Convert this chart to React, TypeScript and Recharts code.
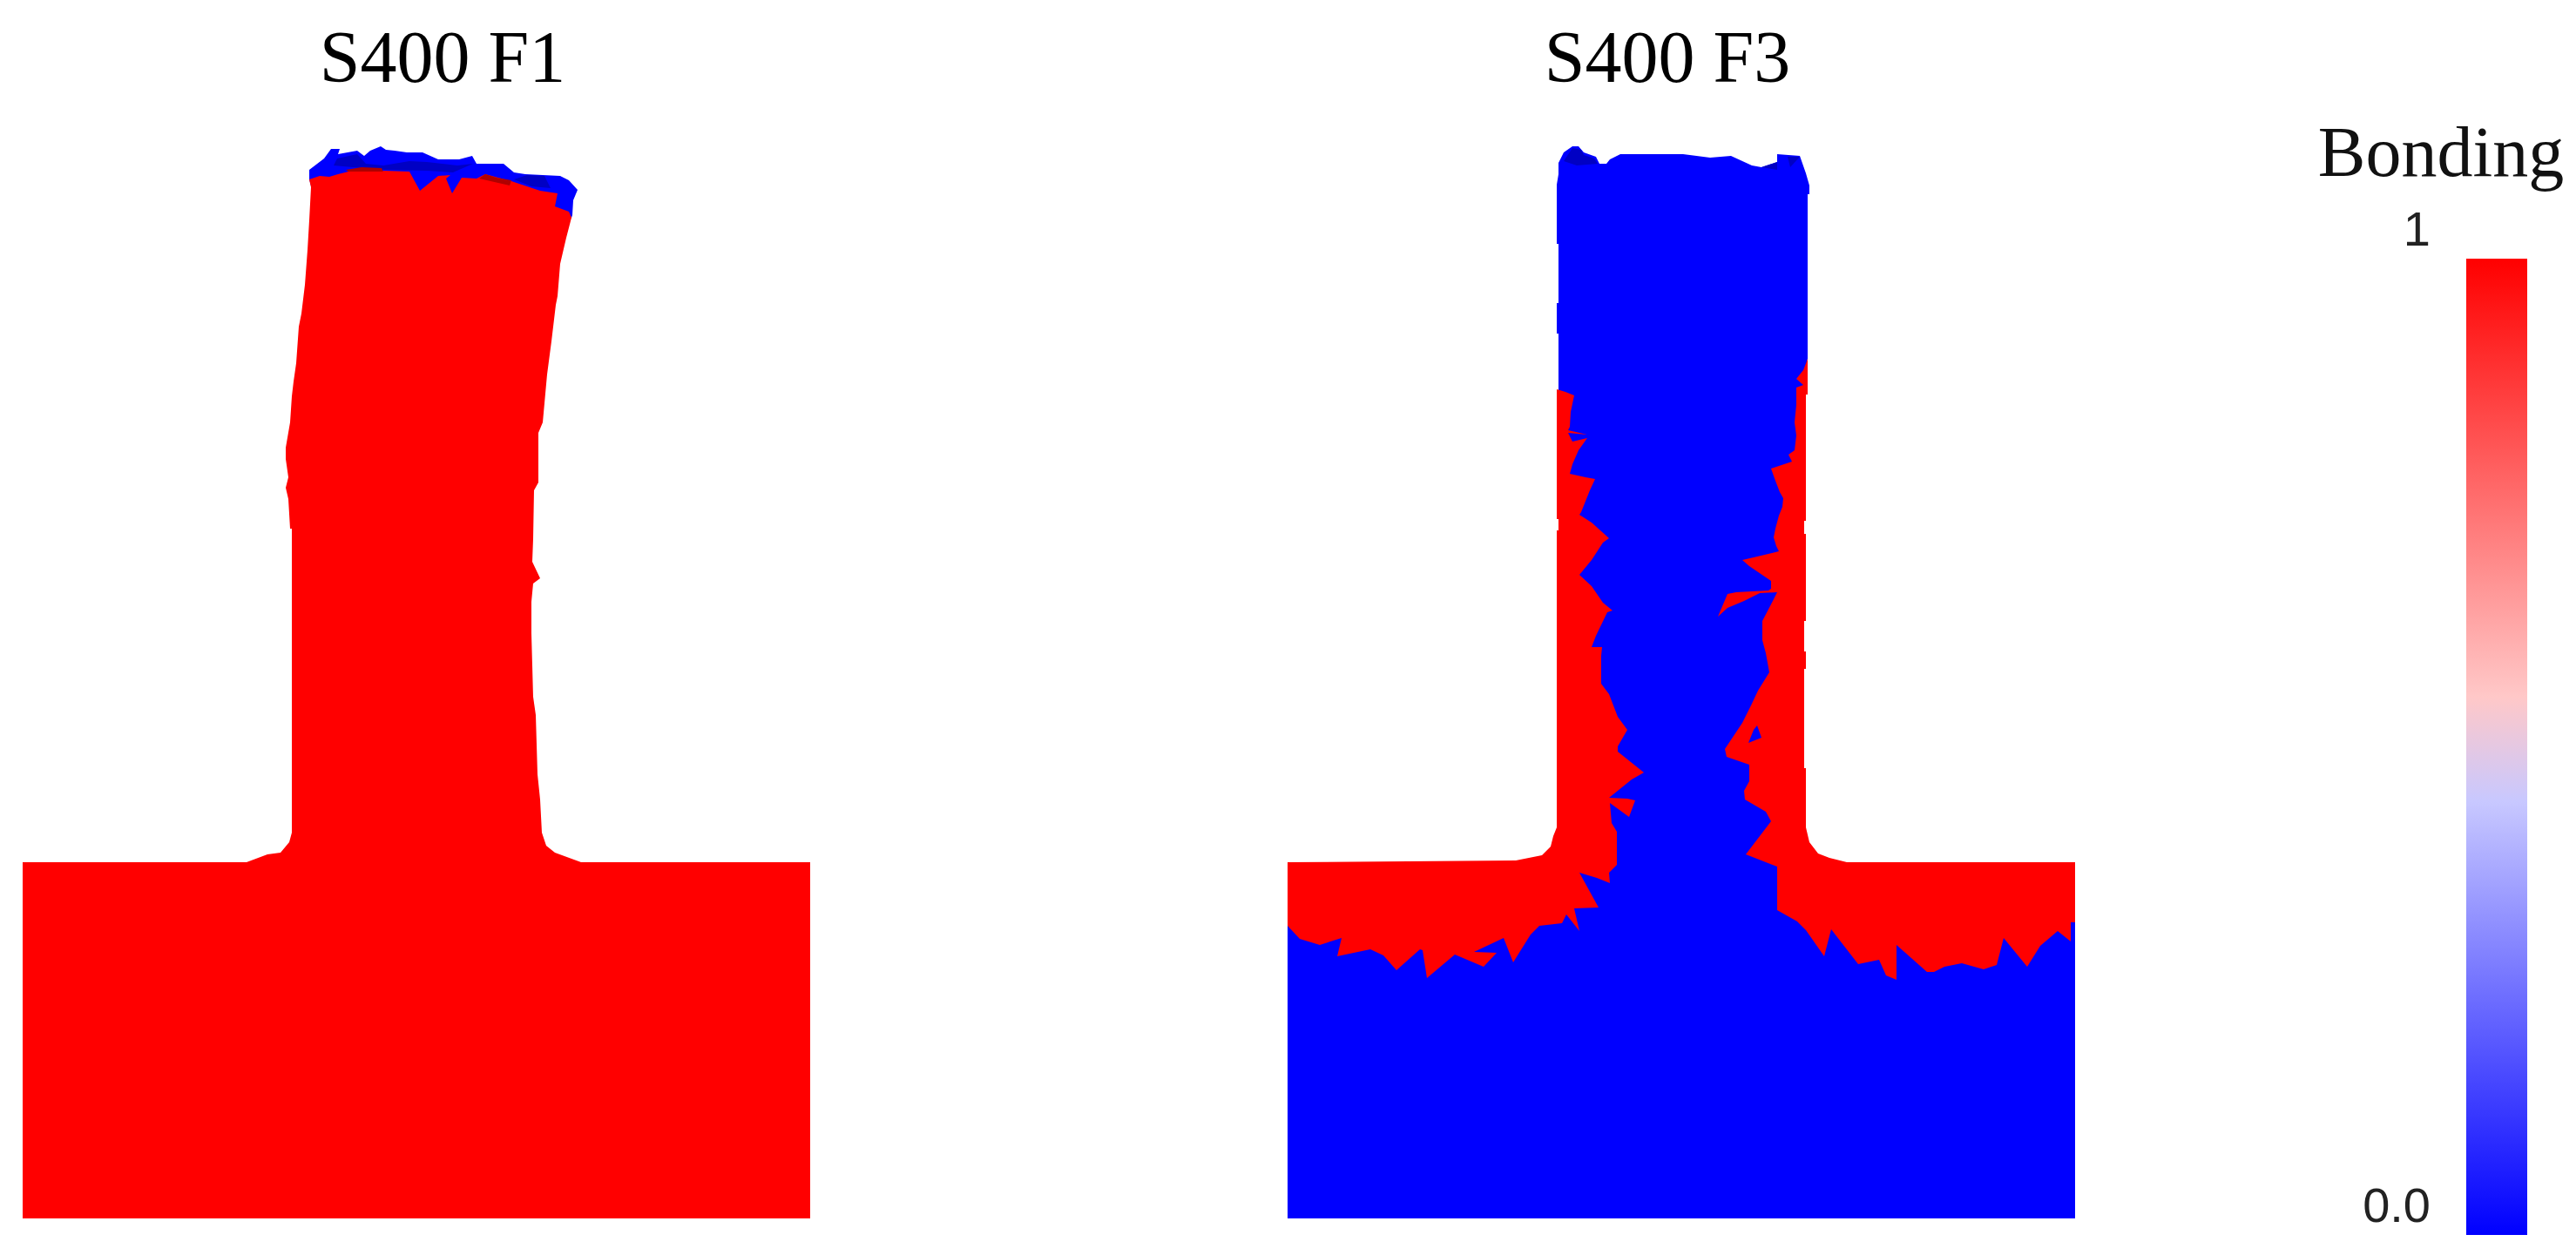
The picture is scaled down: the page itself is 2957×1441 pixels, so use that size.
import { BarChart, Bar, XAxis, YAxis, ScatterChart, Scatter } from 'recharts'

type Pt = [number, number]

const RED = '#ff0000'
const BLUE = '#0000ff'
const DARK_BLUE = '#0000c4'
const DARK_RED = '#b00000'
const FULL_H = 1441

// contours, in reference pixels
const f1Body: Pt[] = [
  [355, 206], [367, 202], [378, 203], [388, 200], [400, 197], [410, 195], [470, 197], [482, 219], [503, 202],
  [517, 201], [512, 205], [519, 222], [530, 204], [547, 205], [557, 200], [587, 208], [620, 219], [640, 222],
  [637, 237], [653, 243], [656, 250], [650, 273], [643, 303], [640, 340], [638, 350], [633, 392], [628, 430],
  [623, 485], [618, 497], [618, 554], [613, 563], [612, 619], [611, 645], [620, 664], [612, 670], [610, 691],
  [610, 727], [612, 800], [615, 821], [617, 889], [620, 918], [622, 956], [627, 971], [637, 979], [667, 990],
  [930, 990], [930, 1399], [26, 1399], [26, 990], [283, 990], [307, 981], [322, 979], [332, 967], [335, 956],
  [335, 607], [333, 607], [331, 573], [328, 560], [331, 548], [328, 527], [328, 514], [333, 485], [335, 455],
  [337, 438], [340, 417], [343, 375], [346, 360], [350, 327], [353, 287], [355, 253], [357, 215],
]
const f1Cap: Pt[] = [
  [355, 206], [355, 195], [372, 182], [380, 171], [390, 171], [388, 177], [410, 173], [418, 179], [425, 173],
  [437, 168], [443, 172], [453, 173], [467, 175], [485, 175], [503, 183], [527, 183], [542, 179], [547, 188],
  [578, 188], [590, 198], [603, 200], [643, 202], [653, 207], [663, 218], [658, 230], [657, 247], [656, 250],
  [640, 262], [500, 262], [370, 262],
]
const f1CapShade: Pt[] = [
  [383, 190], [387, 182], [410, 177], [420, 188], [440, 190], [470, 185], [490, 186], [525, 190], [543, 188],
  [520, 198], [490, 196], [440, 195], [405, 192],
]
const f1CapShade2: Pt[] = [[590, 206], [605, 201], [625, 202], [632, 216], [610, 214]]
const f1RimA: Pt[] = [[397, 195], [415, 192], [438, 193], [440, 197], [400, 197]]
const f1RimB: Pt[] = [[550, 205], [557, 200], [570, 204], [587, 207], [585, 213]]

const f3Outline: Pt[] = [
  [1787, 280], [1787, 212], [1789, 200], [1789, 187], [1795, 175], [1805, 168], [1812, 168], [1818, 175],
  [1832, 180], [1836, 188], [1844, 188], [1848, 183], [1860, 177], [1932, 177], [1963, 181], [1987, 179],
  [2011, 190], [2022, 192], [2040, 186], [2040, 177], [2066, 179], [2073, 199], [2077, 213], [2077, 223],
  [2075, 223], [2075, 412], [2071, 430], [2071, 460], [2066, 460], [2066, 1000], [2382, 1000], [2382, 1399],
  [1478, 1399], [1478, 1000], [1795, 1000], [1795, 455], [1789, 455], [1789, 383], [1787, 383], [1787, 348],
  [1789, 348], [1789, 280],
]
const f3ShadeA: Pt[] = [[1795, 185], [1805, 170], [1815, 172], [1818, 178], [1830, 182], [1834, 188], [1810, 190]]
const f3ShadeB: Pt[] = [[2022, 192], [2040, 186], [2040, 195]]
const f3ShadeC: Pt[] = [[2052, 180], [2066, 180], [2055, 192]]

const f3RedLeft: Pt[] = [
  [1787, 447], [1797, 450], [1807, 454], [1803, 473], [1802, 490], [1800, 494], [1822, 499], [1800, 497],
  [1805, 507], [1822, 503], [1812, 517], [1805, 533], [1802, 544], [1820, 548], [1831, 550], [1825, 563],
  [1815, 588], [1813, 591], [1827, 600], [1847, 618], [1840, 623], [1827, 643], [1813, 660], [1827, 673],
  [1840, 692], [1851, 701], [1845, 703], [1832, 730], [1827, 743], [1839, 743], [1838, 753], [1838, 785],
  [1847, 797], [1857, 823], [1868, 838], [1857, 857], [1857, 863], [1887, 887], [1873, 895], [1847, 916],
  [1868, 917], [1877, 919], [1870, 938], [1848, 922], [1850, 945], [1856, 955], [1856, 993], [1847, 1002],
  [1848, 1014], [1833, 1008], [1813, 1002], [1835, 1042], [1807, 1043], [1813, 1069], [1798, 1050], [1793, 1060],
  [1767, 1063], [1757, 1073], [1737, 1105], [1726, 1077], [1692, 1093], [1718, 1094], [1703, 1110], [1670, 1096],
  [1638, 1123], [1633, 1091], [1630, 1090], [1603, 1114], [1588, 1097], [1573, 1090], [1535, 1098], [1540, 1077],
  [1515, 1085], [1492, 1078], [1478, 1063], [1478, 990], [1740, 988], [1760, 984], [1770, 982], [1780, 972],
  [1783, 960], [1787, 950], [1787, 609], [1789, 609], [1789, 596], [1787, 596],
]
const f3RedRight: Pt[] = [
  [2075, 412], [2070, 425], [2062, 435], [2070, 442], [2062, 445], [2062, 465], [2060, 485], [2062, 500],
  [2060, 517], [2053, 522], [2057, 530], [2033, 538], [2038, 552], [2043, 565], [2047, 572], [2046, 582],
  [2042, 592], [2038, 607], [2036, 617], [2039, 627], [2042, 633], [2013, 640], [2000, 643], [2008, 650],
  [2033, 667], [2033, 676], [2030, 678], [1993, 680], [1983, 682], [1972, 708], [1983, 698], [2002, 690],
  [2020, 681], [2040, 680], [2035, 690], [2023, 713], [2023, 735], [2027, 750], [2031, 772], [2018, 793],
  [2010, 810], [2000, 830], [1980, 860], [1982, 869], [2008, 878], [2008, 897], [2002, 908], [2003, 918],
  [2027, 932], [2033, 943], [2004, 981], [2040, 995], [2040, 1045], [2063, 1058], [2073, 1068], [2094, 1098],
  [2102, 1067], [2133, 1107], [2157, 1102], [2165, 1120], [2177, 1125], [2177, 1085], [2212, 1116], [2220, 1116],
  [2232, 1110], [2252, 1106], [2277, 1113], [2292, 1108], [2300, 1077], [2327, 1110], [2342, 1086], [2362, 1069],
  [2377, 1081], [2377, 1059], [2382, 1059], [2382, 990], [2120, 990], [2100, 985], [2087, 980], [2077, 967],
  [2073, 950], [2073, 882], [2071, 882], [2071, 768], [2073, 768], [2073, 748], [2071, 748], [2071, 713],
  [2073, 713], [2073, 613], [2071, 613], [2071, 598], [2073, 598], [2073, 453], [2075, 453],
]
const f3Pocket: Pt[] = [[2017, 833], [2022, 847], [2007, 853], [2013, 838]]

const bondingScale = [{ name: 'Bonding', value: 1 }]
const bondingTicks = [0, 1]
const bondingStops = [
  { offset: 0, color: '#ff0000' },
  { offset: 0.449, color: '#ffc8c8' },
  { offset: 0.556, color: '#c8c8ff' },
  { offset: 1, color: '#0000ff' },
]

const serif = '"Liberation Serif", "Times New Roman", serif'
const sans = '"Liberation Sans", Arial, sans-serif'

function Region({ pts, fill }: { pts: Pt[]; fill: string }) {
  return (
    <Scatter
      data={pts.map(([x, y]) => ({ x, y }))}
      isAnimationActive={false}
      shape={() => <g />}
      line={(p: any) => (
        <polygon points={p.points.map((q: any) => `${q.x},${q.y}`).join(' ')} fill={fill} stroke="none" />
      )}
    />
  )
}

function Panel({ left, width, title, titleX, children }: any) {
  return (
    <div style={{ position: 'absolute', left, top: 0 }}>
      <ScatterChart width={width} height={FULL_H} margin={{ top: 0, right: 0, bottom: 0, left: 0 }}>
        <XAxis type="number" dataKey="x" hide domain={[left, left + width]} allowDataOverflow />
        <YAxis type="number" dataKey="y" hide reversed domain={[0, FULL_H]} allowDataOverflow />
        {children}
        <text x={titleX - left} y={94} textAnchor="middle" fontFamily={serif} fontSize={84} fill="#000">
          {title}
        </text>
      </ScatterChart>
    </div>
  )
}

function BondingTick({ x, y, payload }: any) {
  return (
    <text x={x} y={y - 35} dy={20} textAnchor="end" fontFamily={sans} fontSize={56} fill="#222">
      {payload.value === 0 ? '0.0' : payload.value}
    </text>
  )
}

export default function App() {
  return (
    <div style={{ position: 'absolute', left: 0, top: 0, width: 2957, height: FULL_H, background: '#fff', overflow: 'hidden' }}>
      {Panel({
        left: 0,
        width: 1300,
        title: 'S400 F1',
        titleX: 508,
        children: [
          Region({ pts: f1Cap, fill: BLUE }),
          Region({ pts: f1CapShade, fill: DARK_BLUE }),
          Region({ pts: f1CapShade2, fill: DARK_BLUE }),
          Region({ pts: f1Body, fill: RED }),
          Region({ pts: f1RimA, fill: DARK_RED }),
          Region({ pts: f1RimB, fill: DARK_RED }),
        ],
      })}
      {Panel({
        left: 1300,
        width: 1340,
        title: 'S400 F3',
        titleX: 1914,
        children: [
          Region({ pts: f3Outline, fill: BLUE }),
          Region({ pts: f3ShadeA, fill: DARK_BLUE }),
          Region({ pts: f3ShadeB, fill: DARK_BLUE }),
          Region({ pts: f3ShadeC, fill: DARK_BLUE }),
          Region({ pts: f3RedLeft, fill: RED }),
          Region({ pts: f3RedRight, fill: RED }),
          Region({ pts: f3Pocket, fill: BLUE }),
        ],
      })}
      <div style={{ position: 'absolute', left: 2640, top: 0 }}>
        <BarChart
          width={317}
          height={FULL_H}
          data={bondingScale}
          barCategoryGap={0}
          margin={{ top: 297, right: 56, bottom: 23, left: 0 }}
        >
          <defs>
            <linearGradient id="bondingGradient" x1="0" y1="0" x2="0" y2="1">
              {bondingStops.map((s) => (
                <stop key={s.offset} offset={s.offset} stopColor={s.color} />
              ))}
            </linearGradient>
          </defs>
          <XAxis dataKey="name" hide />
          <YAxis
            width={191}
            domain={[0, 1]}
            ticks={bondingTicks}
            interval={0}
            tick={<BondingTick />}
            tickLine={false}
            axisLine={false}
            tickSize={0}
            tickMargin={41}
          />
          <Bar dataKey="value" fill="url(#bondingGradient)" isAnimationActive={false} />
          <text x={162} y={202} textAnchor="middle" fontFamily={serif} fontSize={82} fill="#111">
            Bonding
          </text>
        </BarChart>
      </div>
    </div>
  )
}
